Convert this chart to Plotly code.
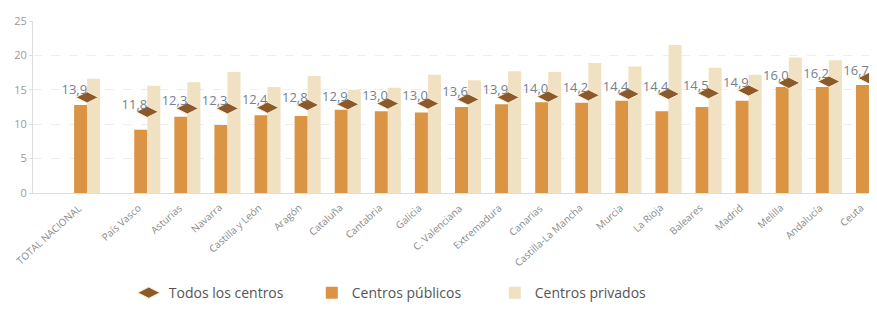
import plotly.graph_objects as go

categories = ["TOTAL NACIONAL", "País Vasco", "Asturias", "Navarra", "Castilla y León",
              "Aragón", "Cataluña", "Cantabria", "Galicia", "C. Valenciana",
              "Extremadura", "Canarias", "Castilla-La Mancha", "Murcia", "La Rioja",
              "Baleares", "Madrid", "Melilla", "Andalucía", "Ceuta"]
todos = [13.9, 11.8, 12.3, 12.3, 12.4, 12.8, 12.9, 13.0, 13.0, 13.6,
         13.9, 14.0, 14.2, 14.4, 14.4, 14.5, 14.9, 16.0, 16.2, 16.7]
publicos = [12.8, 9.2, 11.1, 9.9, 11.3, 11.2, 12.1, 11.9, 11.7, 12.5,
            12.9, 13.2, 13.1, 13.4, 11.9, 12.5, 13.4, 15.4, 15.4, 15.7]
privados = [16.6, 15.6, 16.1, 17.6, 15.4, 17.0, 15.0, 15.3, 17.2, 16.4,
            17.7, 17.6, 18.9, 18.4, 21.5, 18.2, 17.2, 19.7, 19.3, 20.1]
y_ticks = [0, 5, 10, 15, 20, 25]

# TOTAL NACIONAL is set apart from the regions by a small extra gap
xpos = [0] + [i + 0.5 for i in range(1, len(categories))]
labels = [f"{v:.1f}".replace(".", ",") for v in todos]

FONT = "Open Sans"
fig = go.Figure()
fig.add_trace(go.Scatter(x=xpos, y=todos, mode="markers", name="Todos los centros",
                         marker=dict(symbol="diamond-wide", size=16, color="#8C5A2A",
                                     line=dict(color="#FBEBD0", width=1))))
fig.add_trace(go.Bar(x=xpos, y=publicos, name="Centros públicos",
                     marker=dict(color="#DA9443", line=dict(width=0))))
fig.add_trace(go.Bar(x=xpos, y=privados, name="Centros privados",
                     marker=dict(color="#F0E1C2", line=dict(width=0))))
fig.add_trace(go.Scatter(x=xpos, y=todos, mode="text", text=labels,
                         textposition="top left", showlegend=False,
                         textfont=dict(family=FONT, size=13, color="#76808E")))

# rotated category labels whose upper-right end sits at each tick
for xp, cat in zip(xpos, categories):
    fig.add_annotation(x=xp, y=0, xref="x", yref="y", text=cat, showarrow=False,
                       textangle=-42, xanchor="right", yanchor="top",
                       xshift=0, yshift=-5,
                       font=dict(family=FONT, size=10, color="#8a8a8a"))

# the page body adds an 8px offset, so the figure is sized to fit the window
fig.update_layout(
    width=869, height=302,
    margin=dict(l=25, r=0, t=13, b=117, autoexpand=False),
    paper_bgcolor="white", plot_bgcolor="white",
    barmode="group", bargap=0.35, bargroupgap=0,
    font=dict(family=FONT, color="#888888"),
    showlegend=True,
    legend=dict(orientation="h", x=0.139, xanchor="left", xref="container",
                y=0.056, yanchor="middle", yref="container",
                traceorder="normal", entrywidth=138,
                font=dict(family=FONT, size=14, color="#555555")),
)
fig.update_xaxes(range=[-1.35, 19.7], tickmode="array", tickvals=xpos, ticktext=categories,
                 showticklabels=False, automargin=False,
                 showline=True, linecolor="#dddddd", showgrid=False, ticks="")
fig.update_yaxes(range=[0, 25], tickvals=y_ticks, tickfont=dict(size=11, color="#999999"),
                 automargin=False,
                 showline=True, linecolor="#dddddd", showgrid=True, gridcolor="#eeeeee",
                 griddash="dash", zeroline=False, ticks="outside", ticklen=3,
                 tickcolor="#dddddd")

fig.write_html("out.html")
